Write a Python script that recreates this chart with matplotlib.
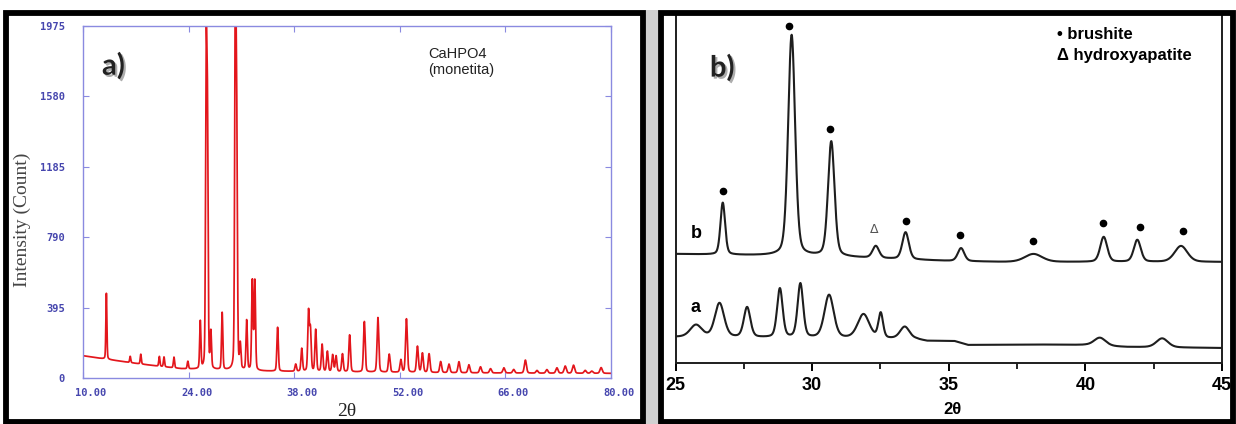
import numpy as np
import matplotlib.pyplot as plt
import matplotlib.patheffects as pe
from matplotlib.patches import Rectangle
from matplotlib.transforms import ScaledTranslation

# ---- panel a) CaHPO4 (monetita) ----
a_base_x = [10, 12, 14, 17, 20, 23, 26, 30, 35, 40, 50, 60, 70, 80]
a_base_y = [125, 112, 100, 82, 66, 52, 47, 42, 38, 36, 32, 29, 27, 26]
a_peak_pos = [13.1, 16.26, 17.66, 20.12, 20.74, 22.06, 23.9, 25.55, 26.33, 26.5,
              26.95, 28.45, 30.2, 30.38, 30.85, 31.7, 32.45, 32.78, 35.8, 38.2,
              39.0, 39.9, 40.15, 40.85, 41.7, 42.4, 43.1, 43.55, 44.4, 45.35,
              47.3, 49.1, 50.6, 52.14, 52.88, 54.34, 55.0, 55.88, 57.42, 58.52,
              59.84, 61.16, 62.7, 64.03, 65.8, 67.1, 68.65, 70.19, 71.5, 72.83,
              73.93, 75.03, 76.58, 77.45, 78.69]
a_peak_h = [370, 35, 55, 55, 55, 60, 42, 265, 1690, 1330,
            200, 320, 2100, 1250, 134, 278, 500, 500, 246, 40,
            128, 332, 230, 234, 152, 113, 94, 88, 100, 207,
            283, 306, 101, 70, 300, 146, 108, 105, 62, 48,
            62, 45, 34, 24, 29, 20, 73, 15, 20, 30,
            40, 45, 16, 12, 32]
a_yticks = [0, 395, 790, 1185, 1580, 1975]
a_xticks = [10, 24, 38, 52, 66, 80]

# ---- panel b) two patterns, intensities in arbitrary units ----
b_base_x = [25, 27, 29, 31, 33, 35, 37, 40, 45]
b_base_y = [109, 108, 107, 106, 104, 102, 101, 101, 101]
b_peak_pos = [26.73, 29.25, 30.7, 32.33, 33.42, 35.45, 38.1, 40.67, 41.9, 43.5]
b_peak_h = [52, 221, 115, 12, 27, 13, 8, 25, 22, 16]
b_peak_w = [0.2, 0.3, 0.28, 0.28, 0.28, 0.28, 0.75, 0.3, 0.3, 0.55]

a2_base_x = [25, 33.8, 34.2, 35.2, 35.7, 38, 40, 41.5, 45]
a2_base_y = [26, 24, 22, 22, 18, 18.5, 18, 16, 15]
a2_peak_pos = [25.75, 26.61, 27.62, 28.82, 29.57, 30.62, 31.88, 32.51, 33.39, 40.53, 42.81]
a2_peak_h = [12, 34, 30, 49, 54, 43, 24, 25, 12, 8, 9]
a2_peak_w = [0.5, 0.4, 0.28, 0.24, 0.24, 0.4, 0.5, 0.2, 0.4, 0.5, 0.5]

brushite_x = [26.73, 29.17, 30.65, 33.45, 35.42, 38.08, 40.64, 42.01, 43.59]
brushite_y = [172, 337, 234, 142, 128, 122, 140, 136, 132]
hap_x = [32.27]
hap_y = [134]


def pvoigt(x, pos, h, fwhm, eta=0.3):
    d = (x - pos) / fwhm
    return h * (eta / (1 + 4 * d ** 2) + (1 - eta) * np.exp(-4 * np.log(2) * d ** 2))


fig = plt.figure(figsize=(12.36, 4.24), dpi=100)
fig.patch.set_facecolor('white')

# panel a
xa = np.linspace(10, 80, 8000)
ya = np.interp(xa, a_base_x, a_base_y)
for p, h in zip(a_peak_pos, a_peak_h):
    ya = ya + pvoigt(xa, p, h, 0.15 + 0.003 * (p - 10), eta=0.25)

blue_line = '#8a8ae0'
blue_txt = '#4646ae'
ax1 = fig.add_axes([83 / 1236, 1 - 378 / 424, 528 / 1236, 352 / 424])
ax1.plot(xa, ya, color='#e3161c', lw=1.25)
ax1.set_xlim(10, 80)
ax1.set_ylim(0, 1975)
ax1.set_xticks(a_xticks)
ax1.set_xticklabels(['%.2f' % v for v in a_xticks])
ax1.set_yticks(a_yticks)
ax1.set_yticklabels([str(v) for v in a_yticks])
for s in ax1.spines.values():
    s.set_color(blue_line)
    s.set_linewidth(1.0)
ax1.tick_params(direction='in', length=4, color=blue_line, top=True, right=True,
                labelcolor=blue_txt, labelsize=7.5)
ax1.tick_params(axis='y', pad=13)
ax1.tick_params(axis='x', pad=7)
for lab in ax1.get_xticklabels() + ax1.get_yticklabels():
    lab.set_family('DejaVu Sans Mono')
    lab.set_fontweight('bold')
for lab in ax1.get_xticklabels():
    lab.set_transform(lab.get_transform() + ScaledTranslation(8 / 100, 0, fig.dpi_scale_trans))

ax1.text(0.036, 0.886, 'a)', transform=ax1.transAxes, fontsize=21, fontweight='bold',
         family='Lato', color='#222222', va='center',
         path_effects=[pe.SimplePatchShadow(offset=(1.5, -1.5), shadow_rgbFace='#777777', alpha=0.6), pe.Normal()])
ax1.text(0.653, 0.94, 'CaHPO4\n(monetita)', transform=ax1.transAxes, fontsize=10.5,
         family='Liberation Sans', color='#222222', va='top', linespacing=1.15)
fig.text(22 / 1236, 1 - 220 / 424, 'Intensity (Count)', rotation=90, ha='center', va='center',
         family='Liberation Serif', fontsize=14, color='#444444')
fig.text(347 / 1236, 1 - 412 / 424, '2θ', ha='center', va='center',
         family='Liberation Serif', fontsize=14, color='#222222')

# panel b
xb = np.linspace(25, 45, 4000)
yb_b = np.interp(xb, b_base_x, b_base_y)
for p, h, w in zip(b_peak_pos, b_peak_h, b_peak_w):
    yb_b = yb_b + pvoigt(xb, p, h, w)
yb_a = np.interp(xb, a2_base_x, a2_base_y)
for p, h, w in zip(a2_peak_pos, a2_peak_h, a2_peak_w):
    yb_a = yb_a + pvoigt(xb, p, h, w)

ax2 = fig.add_axes([675.5 / 1236, 1 - 363 / 424, 546.5 / 1236, 347 / 424])
ax2.plot(xb, yb_b, color='#1e1e1e', lw=1.5)
ax2.plot(xb, yb_a, color='#1e1e1e', lw=1.5)
ax2.plot(brushite_x, brushite_y, 'o', color='black', ms=4.5)
for x, y in zip(hap_x, hap_y):
    ax2.text(x, y, 'Δ', ha='center', va='center', fontsize=9, color='#555555')
ax2.text(25.56, 130, 'b', fontsize=13, fontweight='bold', family='Liberation Sans', va='center')
ax2.text(25.56, 56, 'a', fontsize=13, fontweight='bold', family='Liberation Sans', va='center')
ax2.set_xlim(25, 45)
ax2.set_ylim(0, 347)
ax2.set_yticks([])
ax2.set_xticks([25, 30, 35, 40, 45])
ax2.set_xticks([27.5, 32.5, 37.5, 42.5], minor=True)
ax2.spines['top'].set_visible(False)
for s in ['left', 'right', 'bottom']:
    ax2.spines[s].set_linewidth(1.4)
    ax2.spines[s].set_color('#1e1e1e')
ax2.tick_params(axis='x', which='major', direction='out', length=6, width=1.4, labelsize=13, pad=4)
ax2.tick_params(axis='x', which='minor', direction='out', length=4, width=1.2)
for lab in ax2.get_xticklabels():
    lab.set_fontweight('bold')
    lab.set_family('Liberation Sans')
ax2.text(0.698, 0.948, '• brushite', transform=ax2.transAxes, fontsize=12, fontweight='bold',
         family='Liberation Sans', va='center')
ax2.text(0.698, 0.885, 'Δ hydroxyapatite', transform=ax2.transAxes, fontsize=12, fontweight='bold',
         family='Liberation Sans', va='center')
ax2.text(0.063, 0.85, 'b)', transform=ax2.transAxes, fontsize=21, fontweight='bold',
         family='Lato', color='#222222', va='center',
         path_effects=[pe.SimplePatchShadow(offset=(1.5, -1.5), shadow_rgbFace='#777777', alpha=0.6), pe.Normal()])
fig.text(952 / 1236, 1 - 409 / 424, '2θ', ha='center', va='center', fontsize=12,
         fontweight='bold', family='Liberation Sans')

# black frames around the panels and grey gap between them
fig.add_artist(Rectangle((646 / 1236, 0), 12 / 1236, 1 - 10 / 424, transform=fig.transFigure,
                         facecolor='#d0d0d0', edgecolor='none', zorder=9))
fig.add_artist(Rectangle((6 / 1236, 1 - 422 / 424), 637 / 1236, (422 - 12.5) / 424,
                         transform=fig.transFigure, fill=False, lw=4.2, ec='black', zorder=10))
fig.add_artist(Rectangle((661 / 1236, 1 - 422 / 424), 572 / 1236, (422 - 13) / 424,
                         transform=fig.transFigure, fill=False, lw=4.2, ec='black', zorder=10))

fig.savefig('out.png', dpi=100)
